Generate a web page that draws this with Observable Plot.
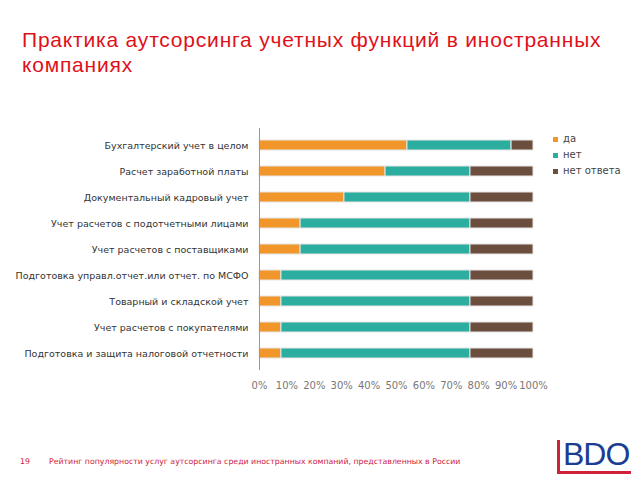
<!DOCTYPE html>
<html><head><meta charset="utf-8">
<script src="https://cdn.jsdelivr.net/npm/d3@7"></script>
<script src="https://cdn.jsdelivr.net/npm/@observablehq/plot@0.6"></script>
<style>
body{margin:0;background:#fff;font-family:"DejaVu Sans",sans-serif;}
#wrap{position:relative;width:640px;height:480px;overflow:hidden;}
#chart{position:absolute;left:0;top:0;}
.abs{position:absolute;white-space:nowrap;}
.title{left:22px;font-family:"Liberation Sans",sans-serif;font-size:21px;line-height:21px;color:#e0101a;letter-spacing:0.8px;}
.leg{font-size:10px;color:#444;left:553px;}
.leg span{display:inline-block;width:5px;height:5px;margin-right:5px;vertical-align:middle;}
#foot{left:49px;top:457px;font-size:7.8px;color:#d0203a;}
#page{left:20px;top:457px;font-size:7.8px;color:#d0203a;}
</style></head>
<body><div id="wrap">
<div id="chart"></div>
<div class="abs title" style="top:29px">Практика аутсорсинга учетных функций в иностранных</div>
<div class="abs title" style="top:54px">компаниях</div>
<div id="legend"></div>
<div id="page" class="abs">19</div>
<div id="foot" class="abs">Рейтинг популярности услуг аутсорсинга среди иностранных компаний, представленных в России</div>
<div class="abs" style="left:557px;top:440px;width:3px;height:33px;background:#d0203a"></div>
<div class="abs" style="left:557px;top:471px;width:74px;height:3px;background:#d0203a"></div>
<div class="abs" style="left:563px;top:436px;font-family:'Liberation Sans',sans-serif;font-size:32px;color:#1b3d93;letter-spacing:-1px;">BDO</div>
</div>
<script>
const categories = [
  "Бухгалтерский учет в целом",
  "Расчет заработной платы",
  "Документальный кадровый учет",
  "Учет расчетов с подотчетными лицами",
  "Учет расчетов с поставщиками",
  "Подготовка управл.отчет.или отчет. по МСФО",
  "Товарный и складской учет",
  "Учет расчетов с покупателями",
  "Подготовка и защита налоговой отчетности"
];
const seriesNames = ["да", "нет", "нет ответа"];
const seriesColors = ["#f0962a", "#2bae9f", "#6b4e3d"];
const yesValues = [54, 46, 31, 15, 15, 8, 8, 8, 8];
const noValues = [38, 31, 46, 62, 62, 69, 69, 69, 69];
const noAnswerValues = [8, 23, 23, 23, 23, 23, 23, 23, 23];
const xTicks = [0, 10, 20, 30, 40, 50, 60, 70, 80, 90, 100];

const table = [];
categories.forEach((c, i) => {
  table.push({cat: c, series: seriesNames[0], value: yesValues[i]});
  table.push({cat: c, series: seriesNames[1], value: noValues[i]});
  table.push({cat: c, series: seriesNames[2], value: noAnswerValues[i]});
});

const plot = Plot.plot({
  width: 640, height: 480,
  marginLeft: 259, marginRight: 107, marginTop: 128, marginBottom: 110,
  style: {fontFamily: "DejaVu Sans, sans-serif", fontSize: "10px", color: "#333"},
  x: {domain: [0, 100], ticks: xTicks, tickFormat: d => d + "%", tickSize: 0, tickPadding: 11, label: null},
  y: {domain: categories, paddingInner: 0.63, paddingOuter: 0.3, tickSize: 0, tickPadding: 11, label: null},
  color: {domain: seriesNames, range: seriesColors},
  marks: [
    Plot.barX(table, Plot.stackX({y: "cat", x: "value", fill: "series", stroke: "#e6e6e6", strokeWidth: 1})),
    Plot.ruleX([0], {stroke: "#999", strokeWidth: 1})
  ]
});
plot.querySelectorAll('[aria-label="y-axis tick label"] text').forEach(t => t.setAttribute("font-size", "9.5"));
plot.querySelectorAll('[aria-label="x-axis tick label"] text').forEach(t => t.setAttribute("fill", "#777"));
document.getElementById("chart").appendChild(plot);

const legend = document.getElementById("legend");
seriesNames.forEach((s, i) => {
  const d = document.createElement("div");
  d.className = "abs leg";
  d.style.top = (133 + i * 16) + "px";
  d.innerHTML = `<span style="background:${seriesColors[i]}"></span>${s}`;
  legend.appendChild(d);
});
</script>
</body></html>
